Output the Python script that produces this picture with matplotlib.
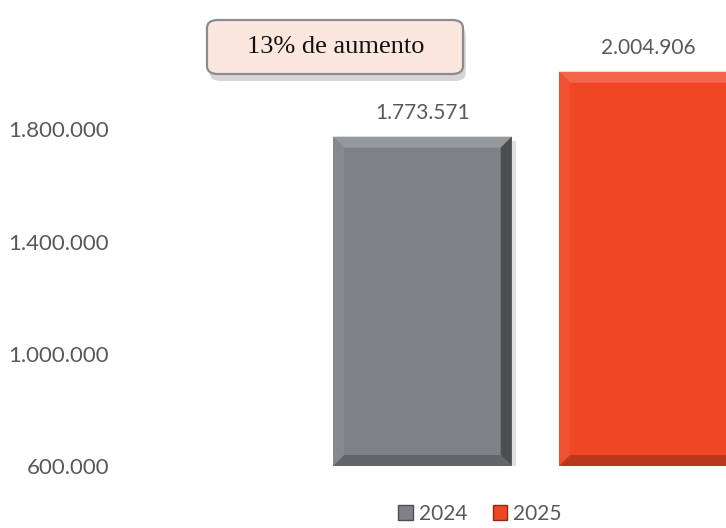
import matplotlib.pyplot as plt
import matplotlib.patheffects as pe
from matplotlib.patches import Polygon, FancyBboxPatch
from matplotlib.transforms import IdentityTransform

years = ['2024', '2025']
values = [1773571, 2004906]
colors = ['#7e8286', '#ef4623']
ticks = [600000, 1000000, 1400000, 1800000]
note = '13% de aumento'


def fmt(v):
    return f"{v:,}".replace(',', '.')


def shade(c, f):
    r, g, b = [int(c[i:i + 2], 16) / 255 for i in (1, 3, 5)]
    if f > 1:
        return (r + (1 - r) * (f - 1), g + (1 - g) * (f - 1), b + (1 - b) * (f - 1))
    return (r * f, g * f, b * f)


plt.rcParams['font.family'] = ['Lato', 'DejaVu Sans']

fig = plt.figure(figsize=(7.26, 5.28), dpi=100)
ax = fig.add_axes([120 / 726, 62 / 528, 606 / 726, 449 / 528])

xs = [0, 1]
ymin = ticks[0]
bars = ax.bar(xs, [v - ymin for v in values], bottom=ymin, width=0.79,
              color=colors, zorder=2)
for p in bars:
    p.set_path_effects([pe.SimplePatchShadow(offset=(3, -3), shadow_rgbFace='#999999', alpha=0.3),
                        pe.Normal()])

ax.set_xlim(-1.338, 1.343)
ax.set_ylim(ymin, 2200000)
ax.set_yticks(ticks)
ax.set_yticklabels([fmt(t) for t in ticks])
ax.tick_params(axis='y', length=0, pad=8, labelsize=16, labelcolor='#595959')
ax.set_xticks([])
for s in ax.spines.values():
    s.set_visible(False)

# bevel on each bar, from the bar's own extent in pixels
b = 11
for p, c in zip(bars, colors):
    (x0, y0), (x1, y1) = ax.transData.transform([(p.get_x(), p.get_y()),
                                                 (p.get_x() + p.get_width(), p.get_y() + p.get_height())])
    sides = [
        ([(x0, y1), (x1, y1), (x1 - b, y1 - b), (x0 + b, y1 - b)], shade(c, 1.18)),
        ([(x0, y0), (x0, y1), (x0 + b, y1 - b), (x0 + b, y0 + b)], shade(c, 1.06)),
        ([(x1, y0), (x1, y1), (x1 - b, y1 - b), (x1 - b, y0 + b)], shade(c, 0.6)),
        ([(x0, y0), (x1, y0), (x1 - b, y0 + b), (x0 + b, y0 + b)], shade(c, 0.78)),
    ]
    for pts, col in sides:
        ax.add_patch(Polygon(pts, closed=True, facecolor=col, edgecolor='none',
                             transform=IdentityTransform(), zorder=3, clip_on=False))
    ax.annotate(fmt(int(p.get_y() + p.get_height())),
                (p.get_x() + p.get_width() / 2, p.get_y() + p.get_height()),
                xytext=(0, 17), textcoords='offset points', ha='center', va='center',
                fontsize=15, color='#595959', annotation_clip=False)

# legend
handles = [plt.Rectangle((0, 0), 1, 1, facecolor=c, edgecolor=shade(c, 0.6)) for c in colors]
fig.legend(handles, years, loc='center', bbox_to_anchor=(480 / 726, 1 - 514 / 528), ncol=2,
           frameon=False, fontsize=15, labelcolor='#595959', handlelength=0.7, handleheight=0.7,
           handletextpad=0.3, columnspacing=1.2, borderpad=0.2)

# note box
box = FancyBboxPatch((207 / 726, 1 - 74 / 528), 256 / 726, 54 / 528,
                     boxstyle='round,pad=0,rounding_size=0.015', transform=fig.transFigure,
                     facecolor='#fbe7de', edgecolor='#8c8c8c', linewidth=1.6,
                     path_effects=[pe.SimplePatchShadow(offset=(2, -5), shadow_rgbFace='#888888', alpha=0.35),
                                   pe.Normal()])
fig.add_artist(box)
fig.text(336 / 726, 1 - 47 / 528, note, ha='center', va='center', fontsize=19,
         family='Liberation Serif', color='#111111')

fig.savefig('out.png', dpi=100)
